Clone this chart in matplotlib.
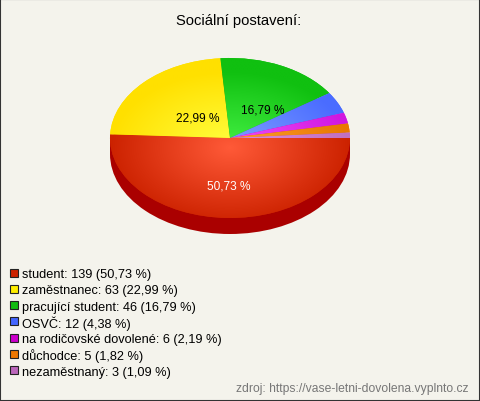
import numpy as np
import matplotlib.pyplot as plt
from matplotlib.patches import Rectangle, Circle
from matplotlib.colors import to_rgb

plt.rcParams['font.family'] = ['Liberation Sans', 'DejaVu Sans']

title = 'Sociální postavení:'
categories = ['student', 'zaměstnanec', 'pracující student', 'OSVČ',
              'na rodičovské dovolené', 'důchodce', 'nezaměstnaný']
counts = [139, 63, 46, 12, 6, 5, 3]
edge_colors = ['#cc2200', '#ffe000', '#10c010', '#4a6cff', '#d018e0', '#e87800', '#c070c0']
center_colors = ['#ff5a38', '#ffff40', '#44f044', '#80a0ff', '#f050f8', '#ffa030', '#e090e0']
legend_colors = ['#cc2200', '#ffee00', '#11bb11', '#4466ff', '#cc00cc', '#ee7700', '#bb66bb']
source = 'zdroj: https://vase-letni-dovolena.vyplnto.cz'

W, H = 480, 402
bg = '#f4f3ec'

def fmt(p):
    return ('%.2f' % p).replace('.', ',') + ' %'

total = sum(counts)
pcts = [100.0 * c / total for c in counts]

fig = plt.figure(figsize=(W / 100, H / 100), dpi=100, facecolor=bg)

# pie: ellipse centre (230,139), semi axes 120 x 80 px, depth 16 px
cx, cy, a, b, depth = 230, 139, 120, 80, 16
d = depth / b
ax = fig.add_axes([(cx - a) / W, 1 - (cy + b + depth) / H, 2 * a / W, (2 * b + depth) / H])
ax.set_axis_off()

# side of the 3D pie (only the front half is visible, all red)
ax.add_patch(Circle((0, -d), 1, color='#aa0000', zorder=1, linewidth=0))
ax.add_patch(Rectangle((-1, -d), 2, d, color='#aa0000', zorder=1, linewidth=0))

wedges, _ = ax.pie(counts, colors=edge_colors, startangle=0, counterclock=False,
                   radius=1, wedgeprops=dict(linewidth=0, zorder=2))

# radial shading on the top face, one gradient per slice
gx, gy = np.meshgrid(np.linspace(-1, 1, 300), np.linspace(-1, 1, 300))
t = np.clip(np.hypot(gx, (gy + 0.12) * 1.05), 0, 1)[..., None]
for w, c0, c1 in zip(wedges, center_colors, edge_colors):
    img = np.array(to_rgb(c0)) * (1 - t) + np.array(to_rgb(c1)) * t
    im = ax.imshow(img, extent=(-1, 1, -1, 1), origin='lower', zorder=3,
                   interpolation='bilinear')
    im.set_clip_path(w)

# percentage labels for the bigger slices (nudged to where the reference puts them)
label_nudge = [(0.0, 0.0), (0.16, -0.16), (0.015, -0.18)]
angle = 0.0
k = 0
for p in pcts:
    mid = np.deg2rad(angle - p * 3.6 / 2)
    angle -= p * 3.6
    if p < 10:
        continue
    x = 0.6 * np.cos(mid) + label_nudge[k][0]
    y = 0.6 * np.sin(mid) + label_nudge[k][1]
    k += 1
    ax.text(x, y, fmt(p), ha='center', va='center', fontsize=8.6, zorder=4,
            color='white' if p > 50 else 'black')

ax.set_aspect('auto')
ax.set_xlim(-1, 1)
ax.set_ylim(-1 - d, 1)

fig.text(239 / W, 1 - 21 / H, title, ha='center', va='center', fontsize=10.6)

# legend
for i, (cat, n, p, c) in enumerate(zip(categories, counts, pcts, legend_colors)):
    y = 275 + i * 16.3
    fig.patches.append(Rectangle((9.5 / W, 1 - (y + 2.5) / H), 8 / W, 8 / H,
                                 transform=fig.transFigure, facecolor=c,
                                 edgecolor='#222222', linewidth=0.8))
    fig.text(21.5 / W, 1 - y / H, '%s: %d (%s)' % (cat, n, fmt(p)),
             ha='left', va='center', fontsize=9.2)

fig.text(469 / W, 1 - 389 / H, source, ha='right', va='center', fontsize=8.7,
         color='#777777')

fig.patches.append(Rectangle((0, 0), 1, 1, transform=fig.transFigure, fill=False,
                             edgecolor='#333333', linewidth=1.5))

fig.savefig('out.png', dpi=100, facecolor=bg)
